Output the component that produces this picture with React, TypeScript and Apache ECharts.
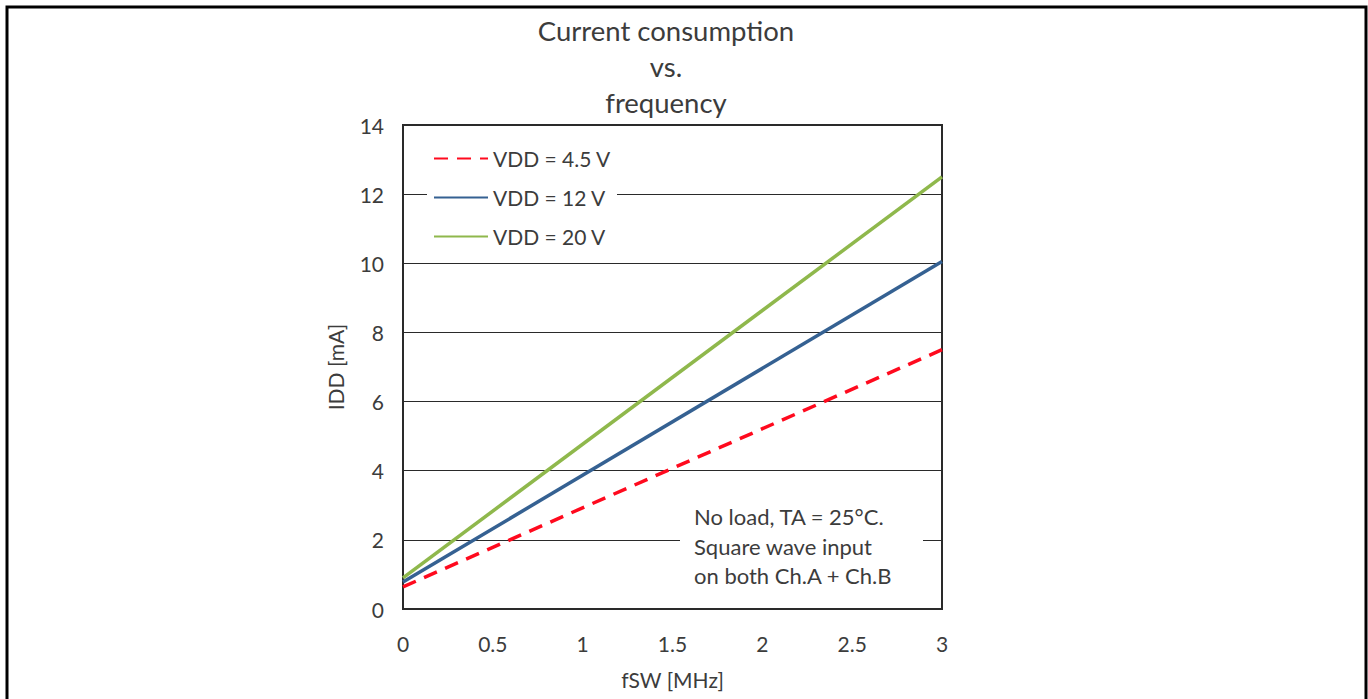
import React, { useEffect, useRef } from "react";
import * as echarts from "echarts";

const titleLines = ["Current consumption", "vs.", "frequency"];
const seriesNames = ["VDD = 4.5 V", "VDD = 12 V", "VDD = 20 V"];
const vdd45: [number, number][] = [[0, 0.64], [3, 7.5]];
const vdd12: [number, number][] = [[0, 0.78], [3, 10.05]];
const vdd20: [number, number][] = [[0, 0.9], [3, 12.5]];
const noteLines = ["No load, TA = 25°C.", "Square wave input", "on both Ch.A + Ch.B"];

const FONT = "Lato, 'Open Sans', sans-serif";
const TXT = "#3c3c3c";

export default function App() {
  const ref = useRef<HTMLDivElement>(null);
  useEffect(() => {
    if (!ref.current) return;
    const chart = echarts.init(ref.current, undefined, { renderer: "svg" });
    chart.setOption({
      animation: false,
      backgroundColor: "#fff",
      textStyle: { fontFamily: FONT },
      title: {
        text: titleLines.join("\n"),
        left: 661,
        textAlign: "center",
        top: 7,
        textStyle: { fontFamily: FONT, fontSize: 27.5, fontWeight: "normal", color: TXT, lineHeight: 36 },
      },
      grid: { left: 403, width: 539, top: 125, height: 484, show: true, borderColor: "#2a2a2a", borderWidth: 2, backgroundColor: "transparent" },
      legend: {
        orient: "vertical",
        left: 427,
        top: 140,
        padding: [8, 6, 8, 6],
        backgroundColor: "#fff",
        itemWidth: 54,
        itemHeight: 14,
        itemGap: 18,
        data: seriesNames,
        itemStyle: { opacity: 0 },
        textStyle: { fontFamily: FONT, fontSize: 21, color: TXT },
      },
      xAxis: {
        type: "value",
        min: 0,
        max: 3,
        interval: 0.5,
        name: "fSW [MHz]",
        nameLocation: "middle",
        nameGap: 60,
        nameTextStyle: { fontFamily: FONT, fontSize: 21, color: TXT },
        axisLine: { show: false },
        axisTick: { show: false },
        splitLine: { show: false },
        axisLabel: { fontFamily: FONT, fontSize: 21, color: TXT, margin: 24, formatter: (v: number) => String(v) },
      },
      yAxis: {
        type: "value",
        min: 0,
        max: 14,
        interval: 2,
        name: "IDD [mA]",
        nameLocation: "middle",
        nameGap: 57,
        nameTextStyle: { fontFamily: FONT, fontSize: 21, color: TXT },
        axisLine: { show: false },
        axisTick: { show: false },
        splitLine: { show: true, lineStyle: { color: "#2a2a2a", width: 1 } },
        axisLabel: { fontFamily: FONT, fontSize: 21, color: TXT, margin: 19 },
      },
      series: [
        { name: seriesNames[0], type: "line", data: vdd45, symbol: "none", lineStyle: { color: "#ff0a1e", width: 3.5, type: [14, 9] }, itemStyle: { color: "#ff0a1e" } },
        { name: seriesNames[1], type: "line", data: vdd12, symbol: "none", lineStyle: { color: "#356192", width: 3.5 }, itemStyle: { color: "#356192" } },
        { name: seriesNames[2], type: "line", data: vdd20, symbol: "none", lineStyle: { color: "#8fb84c", width: 3.5 }, itemStyle: { color: "#8fb84c" } },
      ],
      graphic: [
        { type: "rect", shape: { x: 7, y: 7, width: 1359, height: 720 }, style: { fill: "none", stroke: "#000", lineWidth: 3 }, z: 10 },
        { type: "rect", shape: { x: 680, y: 500, width: 243, height: 98 }, style: { fill: "#fff" }, z: 5 },
        {
          type: "text",
          x: 694,
          y: 502,
          z: 6,
          style: { text: noteLines.join("\n"), font: `22px ${FONT}`, fill: TXT, lineHeight: 29.5 },
        },
      ],
    });
    return () => chart.dispose();
  }, []);
  return <div ref={ref} style={{ position: "absolute", left: 0, top: 0, width: 1368, height: 699 }} />;
}
